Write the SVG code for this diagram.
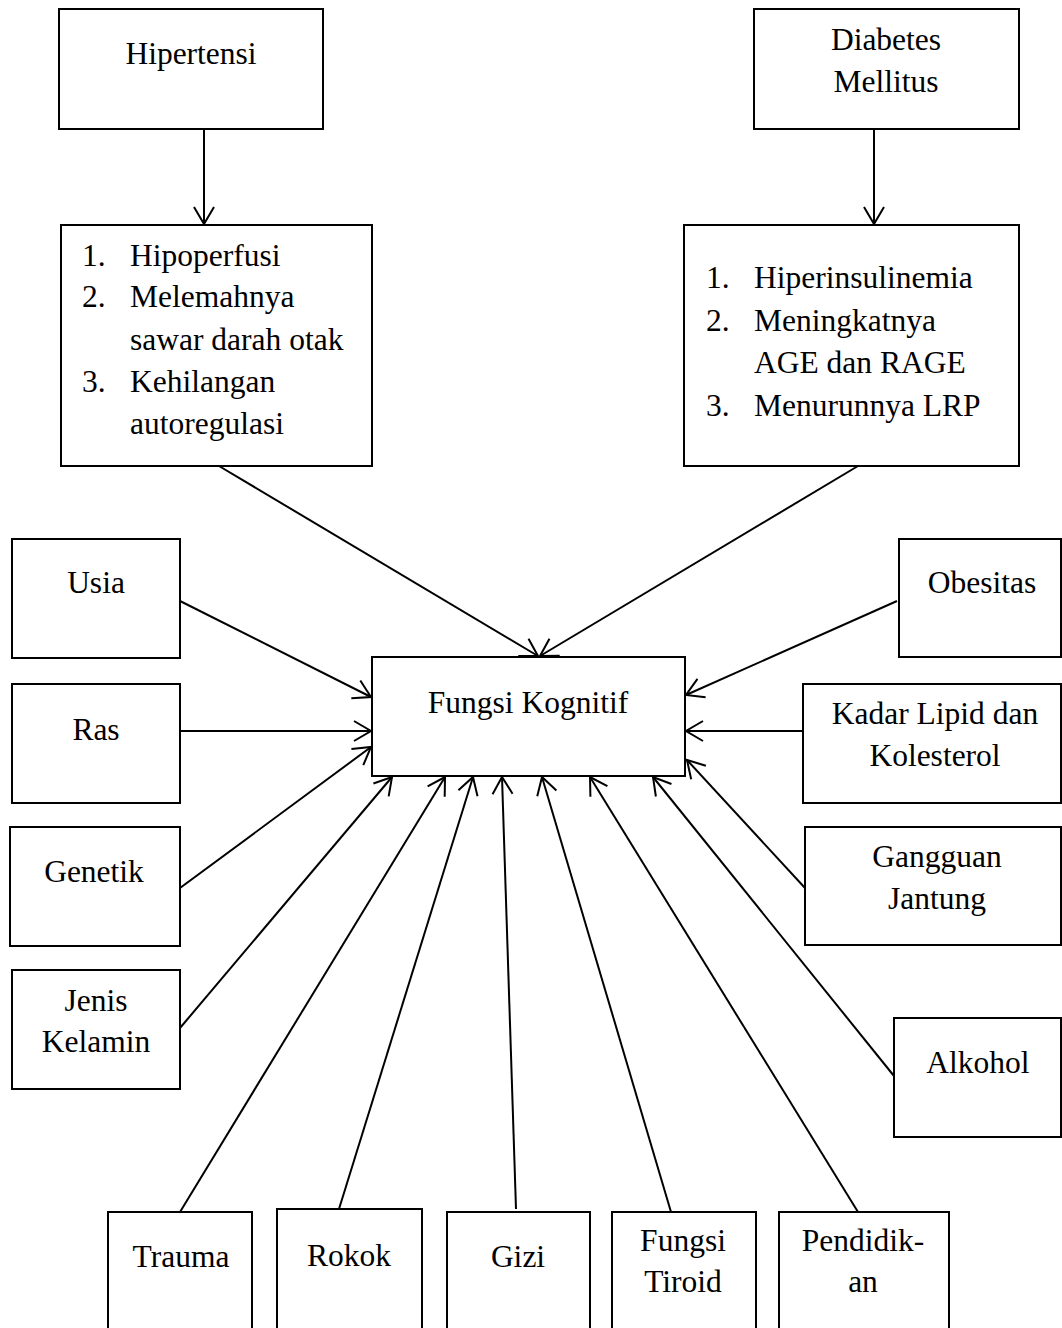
<svg xmlns="http://www.w3.org/2000/svg" width="1062" height="1328" viewBox="0 0 1062 1328">
<style>
.box{fill:#fff;stroke:#000;stroke-width:2}
.t{font-family:"Liberation Serif","Times New Roman",serif;font-size:31.5px;fill:#000}
.c{text-anchor:middle}
.ln{stroke:#000;stroke-width:2;fill:none;marker-end:url(#arr)}
</style>
<defs>
<marker id="arr" markerUnits="userSpaceOnUse" viewBox="-20 -12 22 24" markerWidth="22" markerHeight="24" refX="0" refY="0" orient="auto">
<path d="M-17,-10 L0,0 L-17,10" fill="none" stroke="#000" stroke-width="2"/>
</marker>
</defs>
<rect width="1062" height="1328" fill="#fff"/>
<g id="connectors">
<line class="ln" x1="204" y1="129" x2="204" y2="224"/>
<line class="ln" x1="874" y1="129" x2="874" y2="224"/>
<line class="ln" x1="219" y1="466" x2="538" y2="656"/>
<line class="ln" x1="858" y1="466" x2="540" y2="656"/>
<line class="ln" x1="180" y1="601" x2="371" y2="697"/>
<line class="ln" x1="180" y1="731" x2="371" y2="731"/>
<line class="ln" x1="180" y1="888" x2="371" y2="747"/>
<line class="ln" x1="180" y1="1028" x2="392" y2="777"/>
<line class="ln" x1="180" y1="1212" x2="445" y2="777"/>
<line class="ln" x1="339" y1="1209" x2="473" y2="777"/>
<line class="ln" x1="516" y1="1209" x2="502" y2="777"/>
<line class="ln" x1="671" y1="1212" x2="542" y2="777"/>
<line class="ln" x1="858" y1="1212" x2="590" y2="777"/>
<line class="ln" x1="894" y1="1076" x2="653" y2="777"/>
<line class="ln" x1="805" y1="888" x2="687" y2="760"/>
<line class="ln" x1="803" y1="731" x2="686" y2="731"/>
<line class="ln" x1="897" y1="601" x2="686" y2="695"/>
</g>
<g id="hipertensi">
<rect class="box" x="59" y="9" width="264" height="120"/>
<text class="t c" x="191" y="64">Hipertensi</text>
</g>
<g id="hipertensi-efek">
<rect class="box" x="61" y="225" width="311" height="241"/>
<text class="t" x="82" y="266">1.</text><text class="t" x="130" y="266">Hipoperfusi</text>
<text class="t" x="82" y="307">2.</text><text class="t" x="130" y="307">Melemahnya</text>
<text class="t" x="130" y="350">sawar darah otak</text>
<text class="t" x="82" y="392">3.</text><text class="t" x="130" y="392">Kehilangan</text>
<text class="t" x="130" y="434">autoregulasi</text>
</g>
<g id="diabetes">
<rect class="box" x="754" y="9" width="265" height="120"/>
<text class="t c" x="886" y="50">Diabetes</text>
<text class="t c" x="886" y="92">Mellitus</text>
</g>
<g id="diabetes-efek">
<rect class="box" x="684" y="225" width="335" height="241"/>
<text class="t" x="706" y="288">1.</text><text class="t" x="754" y="288">Hiperinsulinemia</text>
<text class="t" x="706" y="331">2.</text><text class="t" x="754" y="331">Meningkatnya</text>
<text class="t" x="754" y="373">AGE dan RAGE</text>
<text class="t" x="706" y="416">3.</text><text class="t" x="754" y="416">Menurunnya LRP</text>
</g>
<g id="fungsi-kognitif">
<rect class="box" x="372" y="657" width="313" height="119"/>
<text class="t c" x="528" y="713">Fungsi Kognitif</text>
</g>
<g id="usia">
<rect class="box" x="12" y="539" width="168" height="119"/>
<text class="t c" x="96" y="593">Usia</text>
</g>
<g id="ras">
<rect class="box" x="12" y="684" width="168" height="119"/>
<text class="t c" x="96" y="740">Ras</text>
</g>
<g id="genetik">
<rect class="box" x="10" y="827" width="170" height="119"/>
<text class="t c" x="94" y="882">Genetik</text>
</g>
<g id="jenis-kelamin">
<rect class="box" x="12" y="970" width="168" height="119"/>
<text class="t c" x="96" y="1011">Jenis</text>
<text class="t c" x="96" y="1052">Kelamin</text>
</g>
<g id="obesitas">
<rect class="box" x="899" y="539" width="162" height="118"/>
<text class="t c" x="982" y="593">Obesitas</text>
</g>
<g id="kadar-lipid">
<rect class="box" x="803" y="684" width="258" height="119"/>
<text class="t c" x="935" y="724">Kadar Lipid dan</text>
<text class="t c" x="935" y="766">Kolesterol</text>
</g>
<g id="gangguan-jantung">
<rect class="box" x="805" y="827" width="256" height="118"/>
<text class="t c" x="937" y="867">Gangguan</text>
<text class="t c" x="937" y="909">Jantung</text>
</g>
<g id="alkohol">
<rect class="box" x="894" y="1018" width="167" height="119"/>
<text class="t c" x="978" y="1073">Alkohol</text>
</g>
<g id="trauma">
<rect class="box" x="108" y="1212" width="144" height="140"/>
<text class="t c" x="181" y="1267">Trauma</text>
</g>
<g id="rokok">
<rect class="box" x="277" y="1209" width="145" height="143"/>
<text class="t c" x="349" y="1266">Rokok</text>
</g>
<g id="gizi">
<rect class="box" x="447" y="1212" width="143" height="140"/>
<text class="t c" x="518" y="1267">Gizi</text>
</g>
<g id="fungsi-tiroid">
<rect class="box" x="612" y="1212" width="144" height="140"/>
<text class="t c" x="683" y="1251">Fungsi</text>
<text class="t c" x="683" y="1292">Tiroid</text>
</g>
<g id="pendidikan">
<rect class="box" x="779" y="1212" width="170" height="140"/>
<text class="t c" x="863" y="1251">Pendidik-</text>
<text class="t c" x="863" y="1292">an</text>
</g>
</svg>
